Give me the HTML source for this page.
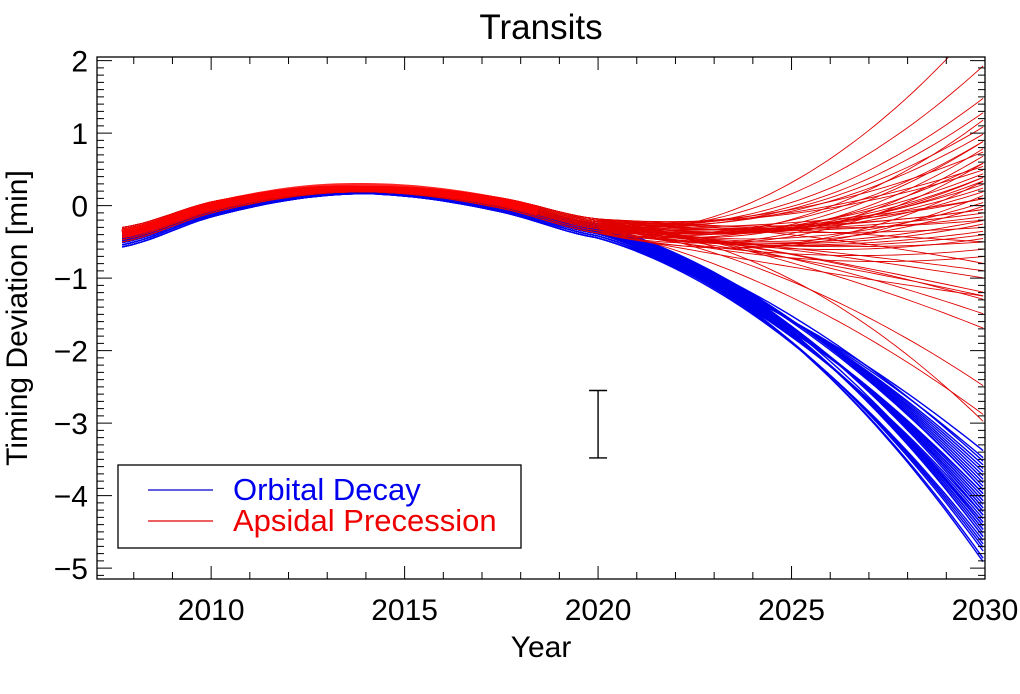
<!DOCTYPE html>
<html><head><meta charset="utf-8"><style>
body{margin:0;background:#fff;}
svg text{font-family:"Liberation Sans",Arial,sans-serif;}
</style></head><body>
<svg id="c" width="1020" height="689" viewBox="0 0 1020 689">
<defs><clipPath id="pc"><rect x="97" y="57" width="888" height="522"/></clipPath></defs>
<text x="541" y="39" font-size="35" text-anchor="middle">Transits</text>
<text x="541" y="657" font-size="30" text-anchor="middle">Year</text>
<text transform="translate(27,318) rotate(-90)" font-size="30" text-anchor="middle">Timing Deviation [min]</text>
<g id="series" clip-path="url(#pc)"></g>
<g id="axes"></g>
</svg>
<script>
// ---- data ----
const anchorYears = [2007.7, 2010, 2012.5, 2015, 2017.5, 2020];
const anchorValues = [-0.42, -0.04, 0.19, 0.2, 0.02, -0.3];
const bandOffsets = [-0.12, -0.09, -0.06, -0.04, -0.02, 0, 0.02, 0.04, 0.06, 0.08];
const blueEnd2030 = [-3.4,-3.5,-3.6,-3.65,-3.7,-3.75,-3.8,-3.85,-3.9,-3.95,-4.0,-4.0,-4.05,-4.1,-4.1,-4.15,-4.2,-4.2,-4.25,-4.3,-4.3,-4.35,-4.4,-4.4,-4.45,-4.5,-4.5,-4.55,-4.6,-4.6,-4.65,-4.7,-4.75,-4.8,-4.9,-4.95,-3.55,-3.95,-4.25,-4.45];
const blueSlope2020 = [-0.16];
const redEnd2030 = [2.6,1.95,1.5,1.3,1.2,1.1,1.0,0.9,0.8,0.75,0.7,0.6,0.55,0.5,0.45,0.4,0.35,0.3,0.25,0.2,0.15,0.1,0.05,0.0,-0.05,-0.1,-0.15,-0.2,-0.25,-0.3,-0.35,-0.4,-0.45,-0.5,-0.6,-0.7,-0.8,-0.9,-1.0,-1.2,-1.25,-1.3,-1.5,-1.7,-2.9,-3.0,0.6,0.35,0.1,-0.2,-0.5,0.9,0.4,-0.05,-1.25,-2.5];
const redSlope2020 = [-0.02,-0.04,-0.06,-0.08,-0.1,-0.05,-0.07,-0.09,-0.12,-0.03,-0.11,-0.14];
const xTicks = [2010, 2015, 2020, 2025, 2030];
const yTicks = [2, 1, 0, -1, -2, -3, -4, -5];
const errBar = {x: 2020, lo: -3.48, hi: -2.55};

// ---- axes ----
const X0=97,X1=985,Y0=57,Y1=579, xmin=2007.05,xmax=2030, ymin=-5.15,ymax=2.05;
const xs=t=>X0+(t-xmin)/(xmax-xmin)*(X1-X0);
const ys=v=>Y1-(v-ymin)/(ymax-ymin)*(Y1-Y0);
const NS="http://www.w3.org/2000/svg";
function mk(tag,attrs,parent){const e=document.createElementNS(NS,tag);for(const k in attrs)e.setAttribute(k,attrs[k]);parent.appendChild(e);return e;}
const ser=document.getElementById('series'), ax=document.getElementById('axes');

function earlyVal(t){
  const n=anchorYears.length;
  let i=0; while(i<n-2 && t>anchorYears[i+1]) i++;
  const p0=anchorValues[Math.max(i-1,0)],p1=anchorValues[i],p2=anchorValues[i+1],p3=anchorValues[Math.min(i+2,n-1)];
  const u=(t-anchorYears[i])/(anchorYears[i+1]-anchorYears[i]);
  return 0.5*((2*p1)+(-p0+p2)*u+(2*p0-5*p1+4*p2-p3)*u*u+(-p0+3*p1-3*p2+p3)*u*u*u);
}
function offAt(t,off){
  const d=Math.abs(t-2014)/6.3; return off*(0.35+0.65*Math.min(1,d));
}
function curvePath(endVal, slope, off){
  let d='';
  const v20=anchorValues[5]+offAt(2020,off);
  for(let t=anchorYears[0]; t<=2030.001; t+=0.25){
    let v;
    if(t<=2020){ v=earlyVal(t)+offAt(t,off); }
    else { const dt=t-2020, c=(endVal-v20-slope*10)/100; v=v20+slope*dt+c*dt*dt; }
    d+=(d?'L':'M')+xs(t).toFixed(1)+','+ys(v).toFixed(1);
  }
  return d;
}
blueEnd2030.forEach((e,i)=>{
  const p=mk('path',{d:curvePath(e,blueSlope2020[i%blueSlope2020.length],bandOffsets[i%bandOffsets.length]-0.03),fill:'none',stroke:'#0000ee','stroke-width':1.4},ser);
  
  
});
redEnd2030.forEach((e,i)=>{
  const p=mk('path',{d:curvePath(e,redSlope2020[i%redSlope2020.length],bandOffsets[(i*3)%bandOffsets.length]+0.04),fill:'none',stroke:'#e00000','stroke-width':0.9},ser);
  
  
});
mk('path',{d:(()=>{let d='';for(let t=anchorYears[0];t<=2018.5;t+=0.25)d+=(d?'L':'M')+xs(t)+','+ys(earlyVal(t)+0.03);return d;})(),fill:'none',stroke:'#ff0000','stroke-width':9,opacity:0.85},ser);

const fr=mk('rect',{x:X0,y:Y0,width:X1-X0,height:Y1-Y0,fill:'none',stroke:'#000','stroke-width':1.3},ax);

let td='';
for(let t=2008;t<=2030;t++){const x=xs(t),L=(t%5==0)?13:7;td+=`M${x},${Y1}v${-L}M${x},${Y0}v${L}`;}
for(let k=-51;k<=20;k++){const v=k/10,y=ys(v),L=(k%10==0)?15:7;td+=`M${X0},${y}h${L}M${X1},${y}h${-L}`;}
mk('path',{d:td,stroke:'#000','stroke-width':1,fill:'none'},ax);
xTicks.forEach(t=>{const e=mk('text',{x:xs(t),y:620,'font-size':30,'text-anchor':'middle'},ax);e.textContent=t;
 });
yTicks.forEach(v=>{const e=mk('text',{x:88,y:ys(v)+11,'font-size':30,'text-anchor':'end'},ax);e.textContent=v<0?'\u2212'+(-v):v;
 });
const ex=xs(errBar.x),eb=mk('path',{d:`M${ex},${ys(errBar.hi)}V${ys(errBar.lo)}M${ex-9},${ys(errBar.hi)}h18M${ex-9},${ys(errBar.lo)}h18`,stroke:'#000','stroke-width':1.4,fill:'none'},ax);

const lg=mk('g',{},ax);
mk('rect',{x:118,y:465,width:403,height:83,fill:'#fff',stroke:'#000','stroke-width':1.3},lg);
mk('line',{x1:148,y1:490,x2:213,y2:490,stroke:'#0000cc','stroke-width':1.3},lg);
mk('line',{x1:148,y1:521,x2:213,y2:521,stroke:'#e00000','stroke-width':1.3},lg);
const t1=mk('text',{x:233,y:500,'font-size':31,fill:'#0000ee'},lg);t1.textContent='Orbital Decay';

const t2=mk('text',{x:233,y:531,'font-size':31,fill:'#ee0000'},lg);t2.textContent='Apsidal Precession';

</script>
</body></html>
